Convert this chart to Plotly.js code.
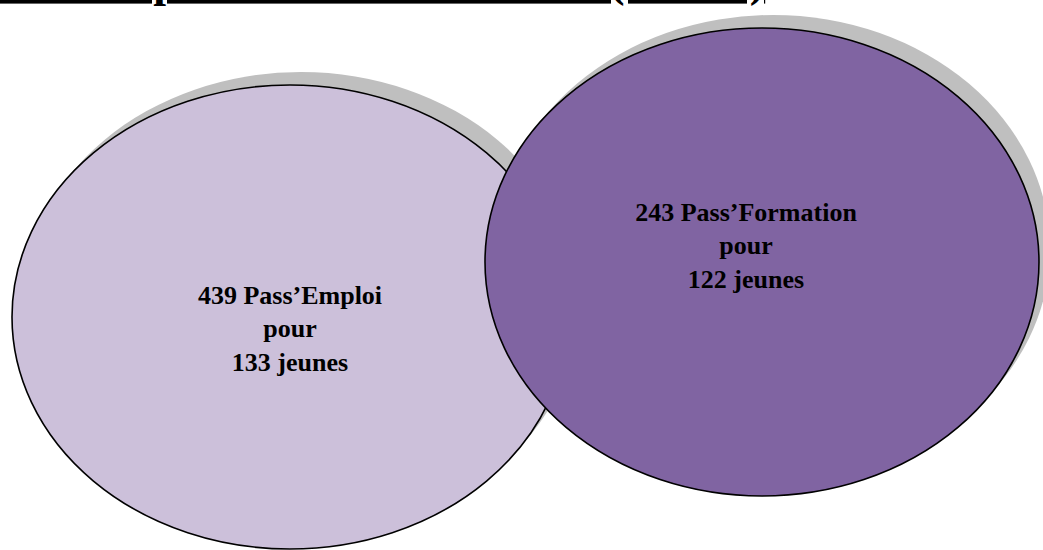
<!DOCTYPE html>
<html><head><meta charset="utf-8">
<script src="https://cdn.plot.ly/plotly-3.0.1.min.js"></script>
<style>html,body{margin:0;padding:0;background:#fff}#chart{width:1043px;height:550px}</style>
</head><body><div id="chart"></div>
<script>
// ---- data ----
const passTypes = ["Pass’Emploi", "Pass’Formation"];
const passCounts = [439, 243];
const youthCounts = [133, 122];
const titleText = "Pass’Emploi et Pass’Formation (CPER)";

// ---- layout geometry (pixel frame 1043 x 550) ----
const W = 1043, H = 550;
const geom = [
  {cx: 290, cy: 317, rx: 278, ry: 232, fill: "#CCC0DA", tx: 290, ty: 331},
  {cx: 762, cy: 262, rx: 277, ry: 234, fill: "#8064A2", tx: 746, ty: 248}
];
const shadow = {dx: 11, dy: -13, color: "#BFBFBF"};

const shapes = [];
geom.forEach(g => {
  shapes.push({type: "circle", xref: "x", yref: "y", layer: "below",
    x0: g.cx - g.rx + shadow.dx, x1: g.cx + g.rx + shadow.dx,
    y0: g.cy - g.ry + shadow.dy, y1: g.cy + g.ry + shadow.dy,
    fillcolor: shadow.color, line: {width: 0}});
  shapes.push({type: "circle", xref: "x", yref: "y", layer: "below",
    x0: g.cx - g.rx, x1: g.cx + g.rx, y0: g.cy - g.ry, y1: g.cy + g.ry,
    fillcolor: g.fill, line: {color: "#000", width: 1.6}});
});

const labels = passTypes.map((p, i) =>
  "<b>" + passCounts[i] + " " + p + "<br>pour<br>" + youthCounts[i] + " jeunes</b>");

const trace = {
  type: "scatter", mode: "text",
  x: geom.map(g => g.tx), y: geom.map(g => g.ty),
  text: labels,
  textposition: "middle center",
  textfont: {family: "Liberation Serif, DejaVu Serif, serif", size: 26, color: "#000"},
  hoverinfo: "skip", showlegend: false
};

const layout = {
  width: W, height: H,
  margin: {l: 0, r: 0, t: 0, b: 0},
  paper_bgcolor: "#fff", plot_bgcolor: "#fff",
  xaxis: {range: [0, W], visible: false, fixedrange: true},
  yaxis: {range: [H, 0], visible: false, fixedrange: true},
  shapes: shapes,
  annotations: [{
    xref: "x", yref: "y", x: 767, y: 8, xanchor: "right", yanchor: "bottom",
    text: "<b><u>" + titleText + "</u></b>", showarrow: false,
    font: {family: "Liberation Serif, DejaVu Serif, serif", size: 46, color: "#000"}
  }]
};

Plotly.newPlot("chart", [trace], layout, {staticPlot: true, displayModeBar: false});
</script>
</body></html>
